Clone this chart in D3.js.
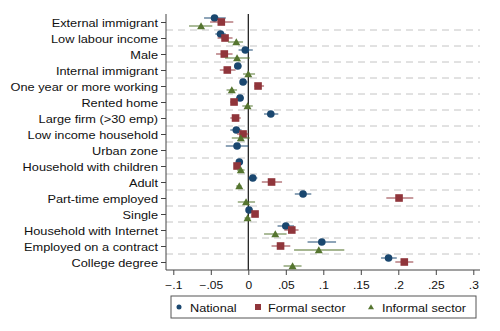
<!DOCTYPE html>
<html>
<head>
<meta charset="utf-8">
<script src="https://cdn.jsdelivr.net/npm/d3@7"></script>
<style>
  body { margin: 0; background: #fff; }
  svg { display: block; font-family: "Liberation Sans", Arial, sans-serif; }
</style>
</head>
<body>
<svg id="chart" width="500" height="331"></svg>
<script>
// Variable names, top to bottom
const categories = [
  "External immigrant", "Low labour income", "Male", "Internal immigrant",
  "One year or more working", "Rented home", "Large firm (>30 emp)",
  "Low income household", "Urban zone", "Household with children", "Adult",
  "Part-time employed", "Single", "Household with Internet",
  "Employed on a contract", "College degree"
];

// [coefficient, lower CI, upper CI]; null where the model has no estimate
const national = [
  [-0.045, -0.059, -0.030], [-0.037, -0.044, -0.030], [-0.004, -0.013, 0.006],
  [-0.014, -0.019, -0.009], [-0.007, -0.011, -0.001], [-0.011, -0.016, -0.006],
  [0.030, 0.021, 0.040], [-0.016, -0.024, -0.009], [-0.015, -0.030, 0.000],
  [-0.012, -0.015, -0.010], [0.006, 0.000, 0.012], [0.073, 0.062, 0.084],
  [0.001, -0.002, 0.004], [0.050, 0.039, 0.061], [0.098, 0.079, 0.117],
  [0.187, 0.177, 0.198]
];
const formal = [
  [-0.036, -0.051, -0.020], [-0.031, -0.041, -0.021], [-0.032, -0.043, -0.021],
  [-0.028, -0.038, -0.017], [0.013, 0.008, 0.021], [-0.019, -0.024, -0.015],
  [-0.017, -0.024, -0.010], [-0.007, -0.015, 0.001], null,
  [-0.015, -0.017, -0.013], [0.031, 0.018, 0.045], [0.201, 0.184, 0.220],
  [0.009, 0.006, 0.012], [0.058, 0.048, 0.067], [0.043, 0.031, 0.056],
  [0.208, 0.196, 0.220]
];
const informal = [
  [-0.063, -0.079, -0.048], [-0.016, -0.027, -0.007], [-0.015, -0.031, 0.002],
  [0.000, -0.007, 0.009], [-0.022, -0.029, -0.015], [-0.001, -0.008, 0.006],
  null, [-0.010, -0.022, 0.002], null,
  [-0.010, -0.015, -0.005], [-0.012, -0.016, -0.009], [-0.003, -0.014, 0.009],
  [-0.001, -0.005, 0.003], [0.036, 0.021, 0.051], [0.094, 0.061, 0.128],
  [0.059, 0.047, 0.071]
];

const xTicks = [-0.1, -0.05, 0, 0.05, 0.1, 0.15, 0.2, 0.25, 0.3];
const seriesNames = ["National", "Formal sector", "Informal sector"];

const series = [
  { name: seriesNames[0], data: national, color: "#1a476f", shape: "circle", offset: -4 },
  { name: seriesNames[1], data: formal, color: "#90353b", shape: "square", offset: 0 },
  { name: seriesNames[2], data: informal, color: "#55752f", shape: "triangle", offset: 4 }
];

const svg = d3.select("#chart");
const plot = { left: 166, right: 480, top: 14, bottom: 270 };

const x = d3.scaleLinear().domain([-0.1, 0.3]).range([173.3, 473.3]);
const y = d3.scalePoint().domain(categories).range([22, 262]);

// stretched text, Stata exports look wide
function wideText(g, tx, ty, str, size, sx, anchor) {
  return g.append("text")
    .attr("transform", `translate(${tx},${ty}) scale(${sx},1)`)
    .attr("text-anchor", anchor)
    .attr("dominant-baseline", "central")
    .style("font-size", size + "px")
    .attr("fill", "#111")
    .text(str);
}

// dashed separators between rows
svg.append("g").selectAll("line")
  .data(categories.slice(0, -1))
  .join("line")
  .attr("x1", plot.left).attr("x2", plot.right)
  .attr("y1", d => y(d) + 8).attr("y2", d => y(d) + 8)
  .attr("stroke", "#c4c4c4")
  .attr("stroke-width", 1)
  .attr("stroke-dasharray", "7,5");

// reference line at zero
svg.append("line")
  .attr("x1", x(0)).attr("x2", x(0))
  .attr("y1", plot.top).attr("y2", plot.bottom)
  .attr("stroke", "#111").attr("stroke-width", 1.2);

// axes
const axisColor = "#444";
svg.append("line")
  .attr("x1", plot.left).attr("x2", plot.left)
  .attr("y1", plot.top).attr("y2", plot.bottom)
  .attr("stroke", axisColor);
svg.append("line")
  .attr("x1", plot.left).attr("x2", plot.right)
  .attr("y1", plot.bottom).attr("y2", plot.bottom)
  .attr("stroke", axisColor);

const yAxis = svg.append("g")
  .attr("transform", `translate(${plot.left},0)`)
  .call(d3.axisLeft(y).tickSize(5).tickFormat(""));
yAxis.select(".domain").remove();
yAxis.selectAll("line").attr("stroke", axisColor);
yAxis.selectAll(".tick").each(function(d) {
  wideText(d3.select(this), -8, 0.5, d, 11.6, 1.1, "end");
});

const xAxis = svg.append("g")
  .attr("transform", `translate(0,${plot.bottom})`)
  .call(d3.axisBottom(x).tickValues(xTicks).tickSize(5).tickFormat(""));
xAxis.select(".domain").remove();
xAxis.selectAll("line").attr("stroke", axisColor);
const fmt = v => v === 0 ? "0" : d3.format("")(v).replace("0.", ".");
xAxis.selectAll(".tick").each(function(d) {
  wideText(d3.select(this), 0, 15.5, fmt(d), 10.2, 1.18, "middle");
});

function drawMarker(g, shape, cx, cy, size, color) {
  if (shape === "circle") {
    g.append("circle").attr("cx", cx).attr("cy", cy).attr("r", size / 2).attr("fill", color);
  } else if (shape === "square") {
    g.append("rect").attr("x", cx - size / 2).attr("y", cy - size / 2)
      .attr("width", size).attr("height", size).attr("fill", color);
  } else {
    const h = size * 0.87;
    g.append("path")
      .attr("d", `M${cx},${cy - h * 0.55} L${cx + size / 2},${cy + h * 0.45} L${cx - size / 2},${cy + h * 0.45} Z`)
      .attr("fill", color);
  }
}

// confidence intervals and point estimates
series.forEach(s => {
  const g = svg.append("g");
  s.data.forEach((d, i) => {
    if (!d) return;
    const cy = y(categories[i]) + s.offset;
    g.append("line")
      .attr("x1", x(d[1])).attr("x2", x(d[2]))
      .attr("y1", cy).attr("y2", cy)
      .attr("stroke", s.color).attr("stroke-opacity", 0.7)
      .attr("stroke-width", 1.4);
  });
  s.data.forEach((d, i) => {
    if (!d) return;
    const cy = y(categories[i]) + s.offset;
    drawMarker(g, s.shape, x(d[0]), cy, s.shape === "triangle" ? 8 : 7.6, s.color);
  });
});

// legend
const legend = svg.append("g");
legend.append("rect")
  .attr("x", 171).attr("y", 296).attr("width", 305).attr("height", 22)
  .attr("fill", "#fff").attr("stroke", "#555").attr("stroke-width", 1);
const legendPos = [
  { mx: 179, tx: 190 },
  { mx: 258, tx: 268 },
  { mx: 371, tx: 382 }
];
series.forEach((s, i) => {
  drawMarker(legend, s.shape, legendPos[i].mx, 307, s.shape === "circle" ? 5 : 6, s.color);
  wideText(legend, legendPos[i].tx, 307.5, s.name, 10.6, 1.2, "start");
});
</script>
</body>
</html>
